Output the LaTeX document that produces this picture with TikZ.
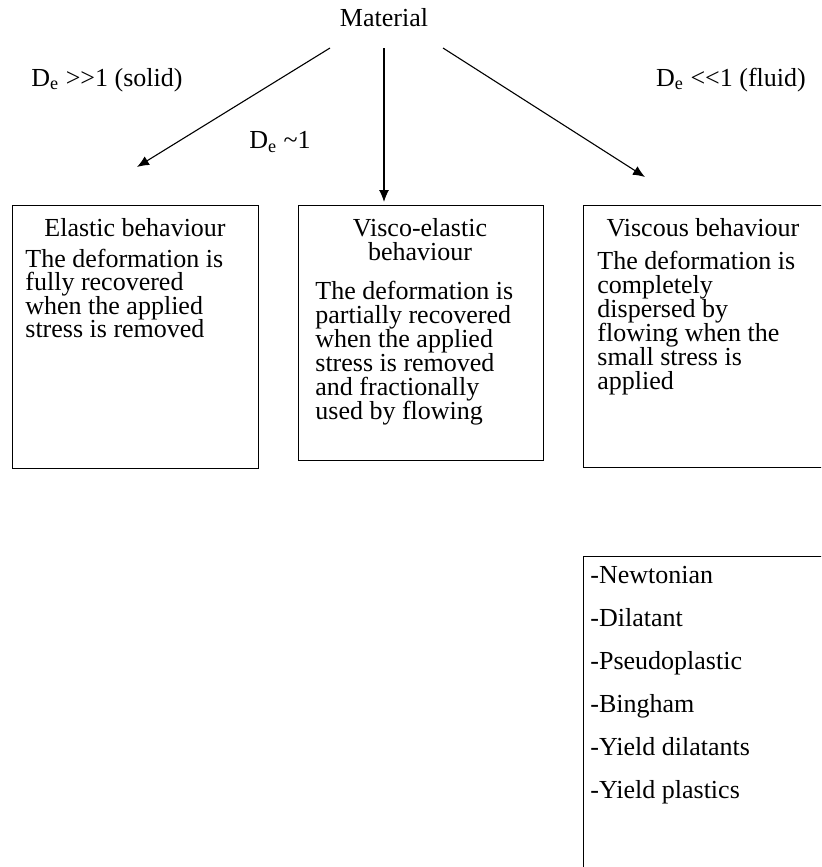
\documentclass[tikz,border=0pt]{standalone}
\usepackage{fontspec}
\setmainfont{Liberation Serif}
\usetikzlibrary{arrows.meta}
\setlength{\lineskiplimit}{-20pt}
\tikzset{>={Latex[length=6pt,width=5pt]}}
\tikzset{behbox/.style = {draw, line width=0.65pt, anchor=north west, inner sep=0pt, minimum width=123pt}}
\tikzset{lbl/.style = {inner sep=0pt, font=\fontsize{13}{12}\selectfont}}
\tikzset{body/.style = {lbl, anchor=north west, align=left}}

\begin{document}
\begin{tikzpicture}[x=0.5pt,y=-0.5pt]
    \clip (0,0) rectangle (821,867);
    \node[lbl] (M) at (384,18) {Material};
    \coordinate (Ml) at (330,48);
    \coordinate (Mm) at (384,48);
    \coordinate (Mr) at (443,48);
    \coordinate (solidend) at (137,167);
    \coordinate (fluidend) at (645,177);

    \node[behbox, minimum height=131.5pt] (elastic) at (12,205) {};
    \node[behbox, minimum height=127.5pt, minimum width=122.5pt] (viscoel) at (298,205) {};
    \node[behbox, minimum height=131pt] (viscous) at (583,205) {};
    \node[behbox, minimum height=162pt] (types) at (583,556) {};

    \node[lbl] (solid) at (107,80) {D\textsubscript{e} >\kern0pt>1 (solid)};
    \node[lbl] (mid) at (280,142) {D\textsubscript{e} \textasciitilde1};
    \node[lbl] (fluid) at (731,80) {D\textsubscript{e} <\kern0pt<1 (fluid)};

    \node[lbl] (elastict) at (135,228) {Elastic behaviour};
    \node[body, font=\fontsize{13}{11.6}\selectfont] (elasticb) at (25,249) {The deformation is\\fully recovered\\when the applied\\stress is removed};
    \node[lbl, align=center] (viscoelt) at (420,240) {Visco-elastic\\behaviour};
    \node[body] (viscoelb) at (315,281) {The deformation is\\partially recovered\\when the applied\\stress is removed\\and fractionally\\used by flowing};
    \node[lbl] (viscoust) at (703,228) {Viscous behaviour};
    \node[body] (viscousb) at (597,251) {The deformation is\\completely\\dispersed by\\flowing when the\\small stress is\\applied};
    \node[body, font=\fontsize{13}{21.5}\selectfont] (typesb) at (590,566) {-Newtonian\\-Dilatant\\-Pseudoplastic\\-Bingham\\-Yield dilatants\\-Yield plastics};

    \draw[->, line width=0.55pt] (Ml) -- (solidend);
    \draw[->, line width=0.55pt] (Mm) -- ([yshift=1.5pt]viscoel.north -| Mm);
    \draw[->, line width=0.55pt] (Mr) -- (fluidend);
\end{tikzpicture}
\end{document}
